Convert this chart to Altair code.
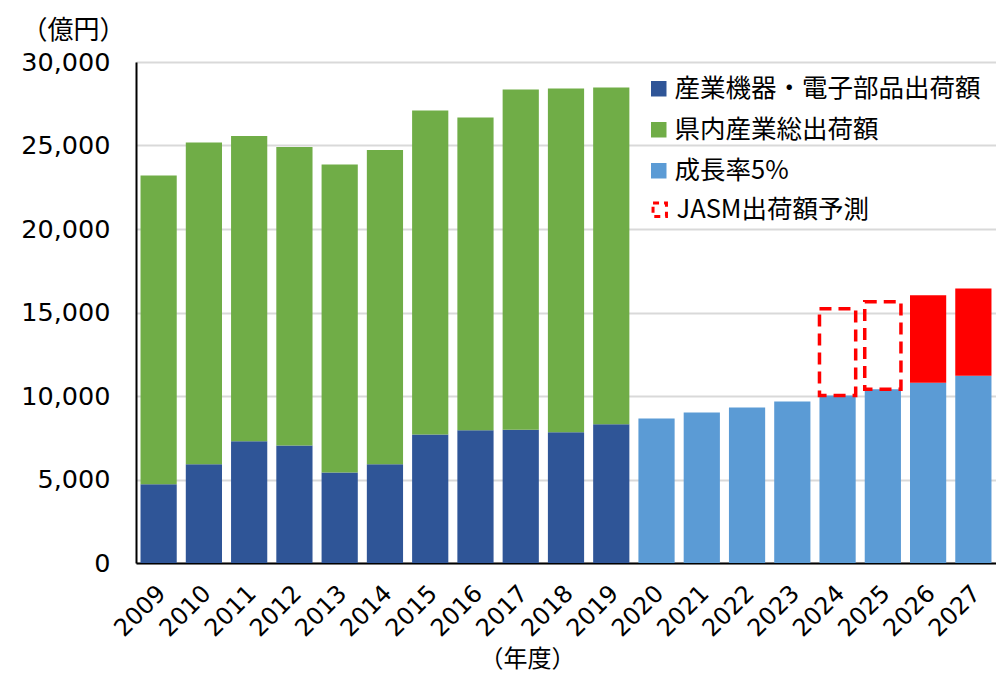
import altair as alt
import pandas as pd

years = [str(y) for y in range(2009, 2028)]
hist_years = [str(y) for y in range(2009, 2020)]
proj_years = [str(y) for y in range(2020, 2028)]

industry = [4720, 5920, 7290, 7040, 5420, 5920, 7700, 7950, 7980, 7830, 8310]
total = [23200, 25180, 25570, 24910, 23860, 24730, 27100, 26680, 28350, 28410, 28470]
growth = [8650, 9010, 9310, 9670, 10030, 10410, 10790, 11210]
jasm_years = ["2024", "2025", "2026", "2027"]
jasm_top = [15220, 15640, 16040, 16440]
jasm_dashed = ["2024", "2025"]

S_IND = "産業機器・電子部品出荷額"
S_TOT = "県内産業総出荷額"
S_GRO = "成長率5%"
S_JAS = "JASM出荷額予測"
series_order = [S_IND, S_TOT, S_GRO, S_JAS]
colors = ["#2F5597", "#70AD47", "#5B9BD5", "#FF0000"]

rows = []
for y, ind, tot in zip(hist_years, industry, total):
    rows.append({"year": y, "series": S_IND, "value": ind, "ord": 0})
    rows.append({"year": y, "series": S_TOT, "value": tot - ind, "ord": 1})
gro_map = dict(zip(proj_years, growth))
for y, g in zip(proj_years, growth):
    rows.append({"year": y, "series": S_GRO, "value": g, "ord": 0})
for y, t in zip(jasm_years, jasm_top):
    if y not in jasm_dashed:
        rows.append({"year": y, "series": S_JAS, "value": t - gro_map[y], "ord": 1})
df = pd.DataFrame(rows)

dash_df = pd.DataFrame({
    "year": [y for y in jasm_years if y in jasm_dashed],
    "low": [gro_map[y] for y in jasm_years if y in jasm_dashed],
    "high": [t for y, t in zip(jasm_years, jasm_top) if y in jasm_dashed],
    "lab": [S_JAS for y in jasm_years if y in jasm_dashed],
})

NUM_FONT = "DejaVu Sans"
JP_FONT = "Noto Sans CJK JP"

x_enc = alt.X(
    "year:N",
    sort=years,
    scale=alt.Scale(domain=years, paddingInner=0.2, paddingOuter=0.1),
    axis=alt.Axis(
        labelAngle=-45, labelFontSize=24, labelFont=NUM_FONT, labelColor="black",
        labelPadding=18, labelOffset=-5, ticks=False, domainColor="black", domainWidth=2,
        title="（年度）", titleFont=JP_FONT, titleFontSize=24, titleFontWeight="normal",
        titleColor="black", titleX=391, titleY=96, titleAlign="center", titleBaseline="middle",
    ),
)

y_axis = alt.Axis(
    values=[0, 5000, 10000, 15000, 20000, 25000, 30000], format=",.0f",
    labelFontSize=25.5, labelFont=NUM_FONT, labelColor="black", labelPadding=26,
    ticks=False, domainColor="black", domainWidth=2,
    gridColor="#D9D9D9", gridWidth=2,
    title="（億円）", titleAngle=0, titleFont=JP_FONT, titleFontSize=26,
    titleFontWeight="normal", titleColor="black",
    titleX=-63, titleY=-32, titleAlign="center", titleBaseline="middle",
)

color_legend = alt.Legend(
    title=None, orient="none", legendX=510, legendY=14,
    values=[S_IND, S_TOT, S_GRO],
    symbolType="square", symbolSize=240, symbolStrokeWidth=0,
    labelFont=JP_FONT, labelFontSize=25.5, labelColor="black", labelLimit=500,
    labelOffset=3, rowPadding=14, padding=0,
)

jasm_legend = alt.Legend(
    title=None, orient="none", legendX=511, legendY=135,
    symbolType="square", symbolSize=180, symbolStrokeWidth=3,
    symbolDash=[6, 5], symbolFillColor="white", symbolStrokeColor="#FF0000",
    labelFont=JP_FONT, labelFontSize=25.5, labelColor="black", labelLimit=500,
    labelOffset=4, padding=0,
)

bars = alt.Chart(df).mark_bar().encode(
    x=x_enc,
    y=alt.Y("value:Q", stack="zero", scale=alt.Scale(domain=[0, 30000], nice=False), axis=y_axis),
    color=alt.Color("series:N", scale=alt.Scale(domain=series_order, range=colors), legend=color_legend),
    order=alt.Order("ord:Q"),
)

dashed = alt.Chart(dash_df).mark_bar(
    fill="transparent", strokeWidth=3.5, strokeDash=[12, 7]
).encode(
    x=alt.X("year:N", sort=years),
    y=alt.Y("low:Q"),
    y2="high:Q",
    stroke=alt.Stroke("lab:N", scale=alt.Scale(domain=[S_JAS], range=["#FF0000"]), legend=jasm_legend),
)

chart = alt.layer(bars, dashed).properties(
    width=860, height=501,
    autosize=alt.AutoSizeParams(type="none"),
    padding={"left": 136, "top": 62, "right": 0, "bottom": 112},
).configure_view(
    stroke="black", strokeWidth=2
).configure(background="white")

chart.save("out.html", embed_options={"renderer": "svg", "actions": False})
